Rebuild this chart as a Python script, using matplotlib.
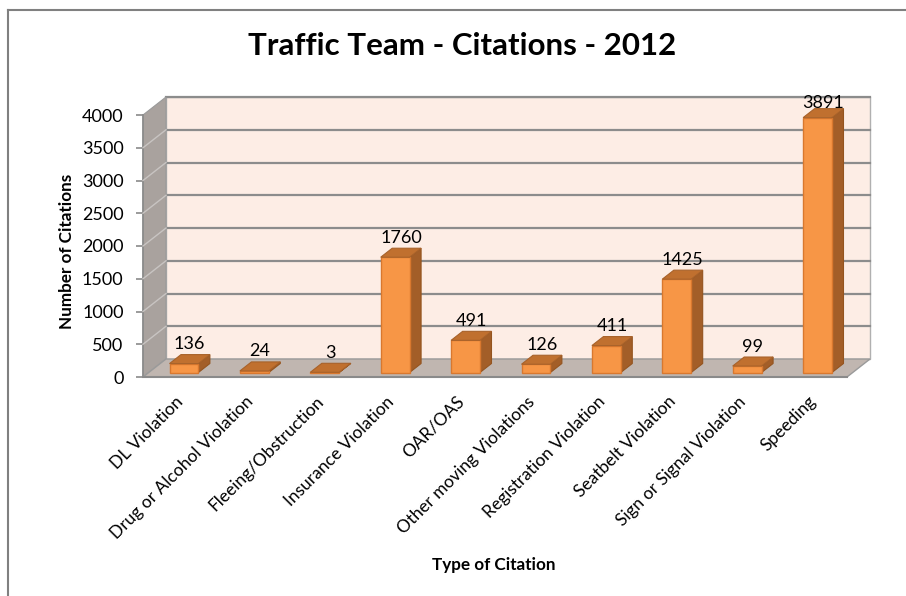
import numpy as np
import matplotlib
matplotlib.use("Agg")
import matplotlib.pyplot as plt
from matplotlib.patches import Polygon, Rectangle
from matplotlib.lines import Line2D
from matplotlib.transforms import ScaledTranslation

categories = ["DL Violation", "Drug or Alcohol Violation", "Fleeing/Obstruction",
              "Insurance Violation", "OAR/OAS", "Other moving Violations",
              "Registration Violation", "Seatbelt Violation",
              "Sign or Signal Violation", "Speeding"]
citations = [136, 24, 3, 1760, 491, 126, 411, 1425, 99, 3891]
yticks = [0, 500, 1000, 1500, 2000, 2500, 3000, 3500, 4000]

plt.rcParams['font.family'] = ['Lato', 'DejaVu Sans']

W, H = 906, 596
fig = plt.figure(figsize=(W / 100, H / 100), dpi=100)
fig.patch.set_facecolor("white")

# front plane of the 3d box (pixels from top-left)
left_px, right_px, y0_px, y4k_px = 143, 847, 377, 115
ax = fig.add_axes([left_px / W, (H - y0_px) / H, (right_px - left_px) / W, (y0_px - y4k_px) / H])
ax.set_xlim(-0.5, 9.5)
ax.set_ylim(0, 4000)
ax.patch.set_visible(False)
for s in ["top", "right", "bottom"]:
    ax.spines[s].set_visible(False)
ax.spines["left"].set_color("#8a8a8a")
ax.spines["left"].set_linewidth(1.2)

# pixel -> data units
sx = (right_px - left_px) / 10.0
sy = (y0_px - y4k_px) / 4000.0
Dx, Dy = 23 / sx, 18 / sy  # full depth of floor

x0, x1 = -0.5, 9.5
wall_col = "#fdede5"
grid_col = "#8c8c8c"

# back wall
ax.add_patch(Rectangle((x0 + Dx, Dy), x1 - x0, 4000, facecolor=wall_col,
                       edgecolor="#b0b0b0", lw=1, clip_on=False, zorder=1))
for v in yticks[1:]:
    ax.add_line(Line2D([x0 + Dx, x1 + Dx], [v + Dy, v + Dy], color=grid_col, lw=1.6,
                       clip_on=False, zorder=2))
# left wall
ax.add_patch(Polygon([(x0, 0), (x0, 4000), (x0 + Dx, 4000 + Dy), (x0 + Dx, Dy)],
                     closed=True, facecolor="#a9a29e", edgecolor="#9a9a9a", lw=0.8,
                     clip_on=False, zorder=2))
for v in yticks[1:-1]:
    ax.add_line(Line2D([x0, x0 + Dx], [v, v + Dy], color="#c8c4c2", lw=1.0,
                       clip_on=False, zorder=3))
# floor
ax.add_patch(Polygon([(x0, 0), (x1, 0), (x1 + Dx, Dy), (x0 + Dx, Dy)], closed=True,
                     facecolor="#c0b6b0", edgecolor="#9a9a9a", lw=1.0,
                     clip_on=False, zorder=3))
ax.add_line(Line2D([x0, x1], [0, 0], color="#8a8a8a", lw=1.5, clip_on=False, zorder=3))

# bars
bw = 0.41
fx, fy = 0.25 * Dx, 0.25 * Dy
bx, by = 0.5 * Dx, 0.5 * Dy
front_col, side_col, top_col, edge_col = "#f79646", "#a35e28", "#c0702f", "#d9782e"
xs = np.arange(len(categories))
ax.bar(xs + fx, citations, width=bw, bottom=fy, color=front_col, edgecolor=edge_col,
       lw=1.0, zorder=5, clip_on=False)
for i, v in zip(xs, citations):
    L, R = i - bw / 2 + fx, i + bw / 2 + fx
    side = [(R, fy), (R, v + fy), (R + bx, v + fy + by), (R + bx, fy + by)]
    top = [(L, v + fy), (R, v + fy), (R + bx, v + fy + by), (L + bx, v + fy + by)]
    ax.add_patch(Polygon(side, closed=True, facecolor=side_col, edgecolor="#94541f",
                         lw=0.8, zorder=4, clip_on=False))
    ax.add_patch(Polygon(top, closed=True, facecolor=top_col, edgecolor="#a8622a",
                         lw=0.8, zorder=6, clip_on=False))
    # labels sit just above the bar, but stay inside the plot area
    ly = min(v + 0.75 * Dy + 5.5 / sy, 4000 + 0.75 * Dy - 7 / sy)
    ax.text(i + 0.5 * Dx, ly, str(v), ha="center", va="baseline", fontsize=13,
            color="black", zorder=7)

# axes ticks
ax.set_yticks(yticks)
ax.set_yticklabels([str(t) for t in yticks])
ax.tick_params(axis="y", length=5, width=1.2, color="#8a8a8a", labelsize=13, pad=9)
ax.set_xticks([])
off = ScaledTranslation(2 / 100, -22 / 100, fig.dpi_scale_trans)
for i, c in zip(xs, categories):
    ax.text(i, 0, c, transform=ax.transData + off, rotation=45, ha="right", va="center",
            rotation_mode="anchor", fontsize=12.5)

fig.text(462 / W, 1 - 46 / H, "Traffic Team - Citations - 2012", ha="center", va="center",
         fontsize=22.5, fontweight="bold")
fig.text(67 / W, 1 - 251 / H, "Number of Citations", ha="center", va="center",
         rotation=90, fontsize=12.3, fontweight="bold")
fig.text(494 / W, 1 - 565 / H, "Type of Citation", ha="center", va="center",
         fontsize=12.3, fontweight="bold")

# chart border (left and top only visible)
fig.add_artist(Line2D([8 / W, 8 / W], [0, 1 - 10 / H], color="#808080", lw=1.5))
fig.add_artist(Line2D([8 / W, 1], [1 - 10 / H, 1 - 10 / H], color="#808080", lw=1.5))

fig.savefig("out.png", dpi=100, facecolor="white")
